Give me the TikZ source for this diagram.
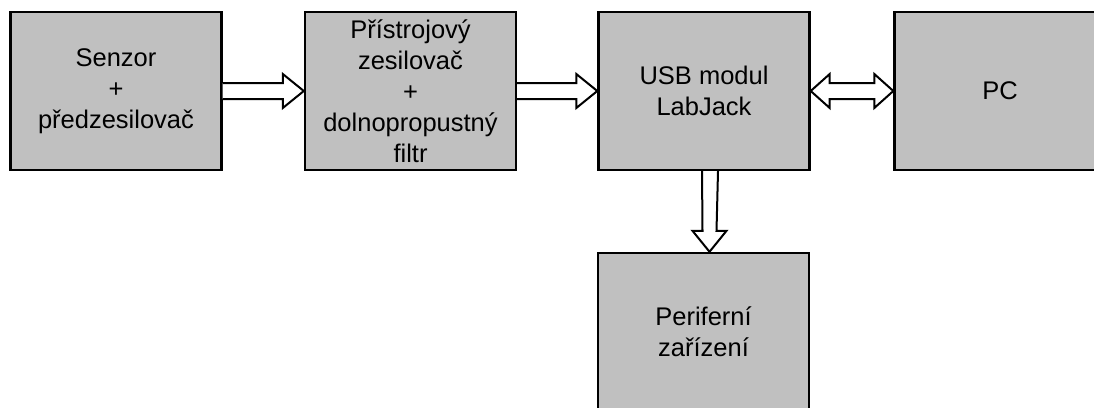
\documentclass[tikz,border=0pt]{standalone}
\usepackage{fontspec}
\setmainfont{Liberation Sans}
\usetikzlibrary{calc}
\definecolor{boxgray}{HTML}{C0C0C0}
\tikzset{
  blockbox/.style={draw=black, fill=boxgray, line width=2.4pt, minimum width=211pt, minimum height=158pt,
    inner sep=0pt, align=center, font=\fontsize{25.5}{31}\selectfont},
  blockarrow/.style={draw=black, fill=white, line width=2pt, line join=miter}
}
\begin{document}
\begin{tikzpicture}[x=1pt,y=-1pt]
\useasboundingbox (0,0) rectangle (1094,407);
\clip (0,0) rectangle (1094,407);
\node[blockbox] (sen) at (116,91) {Senzor\\+\\předzesilovač};
\node[blockbox] (zes) at (410.5,91) {Přístrojový\\zesilovač\\+\\dolnopropustný\\filtr};
\node[blockbox] (usb) at (704,91) {USB modul\\LabJack};
\node[blockbox] (pc) at (1000,91) {PC};
\node[blockbox] (per) at (703.5,332) {Periferní\\zařízení};
% sen -> zes
\draw[blockarrow] ($(sen.east)+(0,-8)$) -- ($(zes.west)+(-21,-8)$) -- ($(zes.west)+(-21,-17)$) -- (zes.west)
  -- ($(zes.west)+(-21,17)$) -- ($(zes.west)+(-21,8)$) -- ($(sen.east)+(0,8)$);
% zes -> usb
\draw[blockarrow] ($(zes.east)+(0,-8)$) -- ($(usb.west)+(-21,-8)$) -- ($(usb.west)+(-21,-17)$) -- (usb.west)
  -- ($(usb.west)+(-21,17)$) -- ($(usb.west)+(-21,8)$) -- ($(zes.east)+(0,8)$);
% usb <-> pc
\draw[blockarrow] (usb.east) -- ($(usb.east)+(19,-17)$) -- ($(usb.east)+(19,-8)$) -- ($(pc.west)+(-19,-8)$)
  -- ($(pc.west)+(-19,-17)$) -- (pc.west) -- ($(pc.west)+(-19,17)$) -- ($(pc.west)+(-19,8)$)
  -- ($(usb.east)+(19,8)$) -- ($(usb.east)+(19,17)$) -- cycle;
% usb -> per
\draw[blockarrow] ($(usb.south)+(-2,0)$) -- ($(per.north)+(-1,-21)$) -- ($(per.north)+(-11,-21)$) -- ($(per.north)+(6,0)$)
  -- ($(per.north)+(23,-21)$) -- ($(per.north)+(13,-21)$) -- ($(usb.south)+(14,0)$);
\end{tikzpicture}
\end{document}
